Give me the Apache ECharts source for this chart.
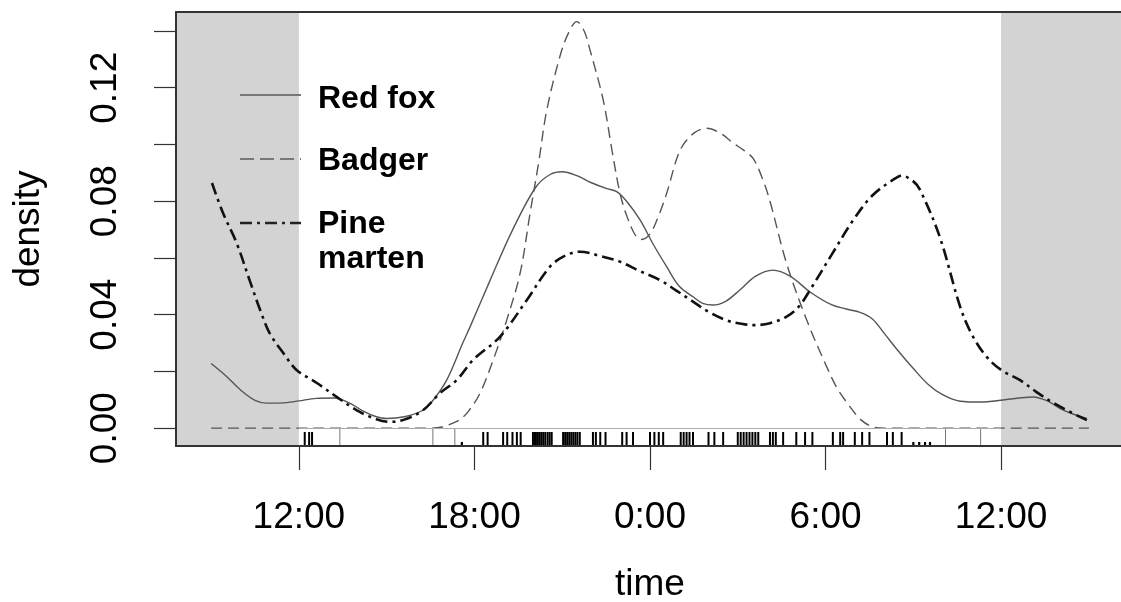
<!DOCTYPE html>
<html>
<head>
<meta charset="utf-8">
<script src="https://cdn.jsdelivr.net/npm/echarts@6/dist/echarts.min.js"></script>
<style>
html,body{margin:0;padding:0;background:#fff;}
#chart{width:1121px;height:602px;}
</style>
</head>
<body>
<div id="chart"></div>
<script>
// ---- data (time in hours; 24 = 0:00, 36 = 12:00 next day) ----
const xTicks = [12, 18, 24, 30, 36];
const yTicks = [0, 0.02, 0.04, 0.06, 0.08, 0.10, 0.12, 0.14];
const yLabels = [0, 0.04, 0.08, 0.12];
const seriesNames = ['Red fox', 'Badger', 'Pine\nmarten'];
const nightShade = [[7.8, 12], [36, 40.2]];

const redFox = [
  [9.0,0.0228],[9.5,0.0185],[10.0,0.0135],[10.5,0.0098],[10.9,0.0088],[11.5,0.0089],[12.0,0.0096],
  [12.6,0.0105],[13.2,0.0106],[13.7,0.0090],[14.2,0.0060],[14.6,0.0042],[15.0,0.0034],
  [15.6,0.0040],[16.24,0.0063],[16.6,0.0100],[17.05,0.0169],[17.6,0.0300],[17.85,0.0357],
  [18.53,0.0520],[19.3,0.0698],[20.1,0.0850],[20.6,0.0895],[21.0,0.0904],[21.5,0.0890],
  [22.0,0.0865],[22.5,0.0845],[22.86,0.0834],[23.2,0.0800],[23.66,0.0734],[24.1,0.0650],
  [24.57,0.0569],[25.0,0.0500],[25.47,0.0463],[25.8,0.0440],[26.16,0.0434],[26.6,0.0448],
  [27.07,0.0487],[27.6,0.0535],[28.2,0.0557],[28.8,0.0535],[29.47,0.0480],[30.2,0.0435],
  [30.7,0.0420],[31.18,0.0408],[31.6,0.0385],[32.0,0.0335],[32.5,0.0270],[33.0,0.0210],
  [33.5,0.0155],[34.0,0.0118],[34.6,0.0095],[35.3,0.0092],[36.07,0.0099],[36.6,0.0106],
  [37.1,0.0110],[37.6,0.0095],[38.0,0.0070],[38.5,0.0048],[38.93,0.0034]
];
const badger = [
  [9.0,0],[12.0,0],[15.0,0],[16.5,0],[16.9,0.0004],[17.2,0.0015],[17.5,0.0030],[17.8,0.0060],
  [18.19,0.0123],[18.64,0.0240],[19.1,0.0380],[19.56,0.0546],[19.9,0.0757],[20.2,0.0940],
  [20.47,0.1120],[20.92,0.1310],[21.2,0.1390],[21.5,0.1433],[21.75,0.1400],[21.95,0.1333],
  [22.4,0.1157],[22.7,0.0980],[22.97,0.0830],[23.2,0.0750],[23.5,0.0680],[23.7,0.0665],
  [24.0,0.0685],[24.3,0.0750],[24.57,0.0828],[25.03,0.0980],[25.5,0.1040],[25.94,0.1057],
  [26.4,0.1040],[26.84,0.1005],[27.2,0.0980],[27.53,0.0950],[27.86,0.0875],[28.1,0.0800],
  [28.67,0.0580],[29.36,0.0380],[30.04,0.0216],[30.4,0.0140],[30.84,0.0075],[31.2,0.0030],
  [31.6,0.0005],[32.0,0],[35.0,0],[39.0,0]
];
const pineMarten = [
  [9.03,0.0864],[9.4,0.0760],[9.87,0.0653],[10.32,0.0520],[10.7,0.0410],[11.0,0.0335],
  [11.5,0.0260],[11.92,0.0205],[12.6,0.0160],[13.29,0.0110],[13.9,0.0068],[14.43,0.0040],
  [15.1,0.0022],[15.6,0.0030],[16.24,0.0063],[16.82,0.0123],[17.4,0.0170],[17.95,0.0240],
  [18.87,0.0322],[19.78,0.0450],[20.58,0.0569],[21.1,0.0608],[21.6,0.0622],[22.3,0.0607],
  [22.97,0.0587],[23.6,0.0556],[24.34,0.0522],[24.9,0.0485],[25.47,0.0446],[26.0,0.0410],
  [26.62,0.0380],[27.07,0.0369],[27.53,0.0363],[28.1,0.0370],[28.67,0.0393],[29.1,0.0430],
  [29.47,0.0487],[30.2,0.0610],[30.95,0.0734],[31.6,0.0820],[32.3,0.0875],[32.6,0.0890],
  [33.0,0.0870],[33.23,0.0840],[33.9,0.0675],[34.6,0.0428],[35.0,0.0330],[35.5,0.0252],
  [36.0,0.0205],[36.65,0.0169],[37.2,0.0128],[37.8,0.0088],[38.4,0.0055],[38.93,0.0028]
];
// rug of observation times
const rugShort = [
  12.2,12.35,12.45,18.3,18.45,18.98,19.12,19.3,19.45,19.58,
  20.0,20.07,20.14,20.21,20.28,20.35,20.42,20.5,20.57,20.64,
  21.03,21.1,21.17,21.24,21.31,21.38,21.45,21.52,21.6,
  22.05,22.15,22.3,22.48,23.05,23.2,23.42,24.0,24.15,24.3,24.45,
  25.05,25.15,25.25,25.35,25.47,26.0,26.2,26.5,
  27.0,27.1,27.2,27.3,27.4,27.5,27.6,27.7,28.1,28.2,28.3,28.55,
  29.0,29.3,29.55,30.25,30.5,30.6,31.0,31.25,31.5,32.1,32.3,32.6
];
const rugTall = [13.4, 16.58, 17.33, 34.1, 35.3];
const rugDots = [17.57, 33.0, 33.2, 33.4, 33.57];

const FONT = '"Liberation Sans", Arial, Helvetica, sans-serif';

const chart = echarts.init(document.getElementById('chart'), null, {renderer: 'canvas'});

function rugSeries(values, kind) {
  return {
    type: 'custom',
    xAxisIndex: 0, yAxisIndex: 0,
    z: 4, silent: true,
    data: values.map(t => [t, 0]),
    encode: {x: 0, y: 1},
    renderItem: function (params, api) {
      const p = api.coord([api.value(0), 0]);
      const cs = params.coordSys;
      const bottom = cs.y + cs.height;
      let top, color, w;
      if (kind === 'tall') { top = p[1]; color = '#777'; w = 1; }
      else if (kind === 'dot') { top = bottom - 4; color = '#000'; w = 2.2; }
      else { top = bottom - 14; color = '#000'; w = 2; }
      return {type: 'line', shape: {x1: p[0], y1: top, x2: p[0], y2: bottom - 1},
              style: {stroke: color, lineWidth: w}};
    }
  };
}

const axisText = {fontFamily: FONT, fontSize: 37, color: '#000', lineHeight: 37};

const option = {
  animation: false,
  backgroundColor: '#fff',
  grid: {left: 176, top: 12, width: 948, height: 434, outerBoundsMode: 'none', containLabel: false},
  xAxis: [{
    type: 'value', min: 7.8, max: 40.2, position: 'bottom', z: 10,
    name: 'time', nameLocation: 'middle', nameGap: 120,
    nameTextStyle: axisText,
    axisLine: {show: true, onZero: false, lineStyle: {color: '#333', width: 2}},
    axisTick: {show: true, length: 24, customValues: xTicks, lineStyle: {color: '#333', width: 1.2}},
    axisLabel: {show: true, margin: 53, customValues: xTicks, ...axisText,
      formatter: v => (v % 24) + ':00'},
    splitLine: {show: false}
  }, {
    type: 'value', min: 7.8, max: 40.2, position: 'top', z: 10,
    axisLine: {show: true, onZero: false, lineStyle: {color: '#333', width: 2}},
    axisTick: {show: false}, axisLabel: {show: false}, splitLine: {show: false}
  }],
  yAxis: [{
    type: 'value', min: -0.0063, max: 0.1467, z: 10,
    name: 'density', nameLocation: 'middle', nameGap: 129, nameRotate: 90,
    nameTextStyle: axisText,
    axisLine: {show: true, onZero: false, lineStyle: {color: '#333', width: 2}},
    axisTick: {show: true, length: 22, customValues: yTicks, lineStyle: {color: '#333', width: 1.2}},
    axisLabel: {show: true, rotate: 90, margin: 52, customValues: yLabels, ...axisText,
      formatter: v => v.toFixed(2)},
    splitLine: {show: false}
  }],
  series: [
    {
      type: 'line', name: 'shade', z: 1, silent: true, data: [],
      markArea: {silent: true, itemStyle: {color: '#d3d3d3'},
        data: nightShade.map(r => [{xAxis: r[0]}, {xAxis: r[1]}])},
      markLine: {silent: true, symbol: 'none', label: {show: false},
        lineStyle: {color: '#aaa', width: 1, type: 'solid'},
        data: [[{coord: [12, 0]}, {coord: [36, 0]}]]}
    },
    {
      type: 'line', name: seriesNames[0], data: redFox, z: 3,
      smooth: 0.35, symbol: 'none',
      lineStyle: {color: '#555', width: 1.4, type: 'solid'}
    },
    {
      type: 'line', name: seriesNames[1], data: badger, z: 3,
      smooth: 0.35, symbol: 'none',
      lineStyle: {color: '#555', width: 1.4, type: [11, 6]}
    },
    {
      type: 'line', name: seriesNames[2], data: pineMarten, z: 3,
      smooth: 0.35, symbol: 'none',
      lineStyle: {color: '#111', width: 2.6, type: [12, 5, 3, 5]}
    },
    rugSeries(rugShort, 'short'),
    rugSeries(rugTall, 'tall'),
    rugSeries(rugDots, 'dot')
  ],
  graphic: [
    {type: 'line', z: 20, shape: {x1: 240, y1: 95, x2: 301, y2: 95},
      style: {stroke: '#777', lineWidth: 2}},
    {type: 'line', z: 20, shape: {x1: 240, y1: 159, x2: 301, y2: 159},
      style: {stroke: '#777', lineWidth: 2, lineDash: [14, 6]}},
    {type: 'line', z: 20, shape: {x1: 240, y1: 223, x2: 301, y2: 223},
      style: {stroke: '#222', lineWidth: 2.6, lineDash: [12, 5, 3, 5]}},
    {type: 'text', z: 20, x: 318, y: 99,
      style: {text: seriesNames[0], fontFamily: FONT, fontWeight: 'bold', fontSize: 32,
        fill: '#000', verticalAlign: 'middle', align: 'left'}},
    {type: 'text', z: 20, x: 318, y: 161,
      style: {text: seriesNames[1], fontFamily: FONT, fontWeight: 'bold', fontSize: 32,
        fill: '#000', verticalAlign: 'middle', align: 'left'}},
    {type: 'text', z: 20, x: 318, y: 241.5,
      style: {text: seriesNames[2], fontFamily: FONT, fontWeight: 'bold', fontSize: 32,
        lineHeight: 35, fill: '#000', verticalAlign: 'middle', align: 'left'}}
  ]
};
chart.setOption(option);
</script>
</body>
</html>
